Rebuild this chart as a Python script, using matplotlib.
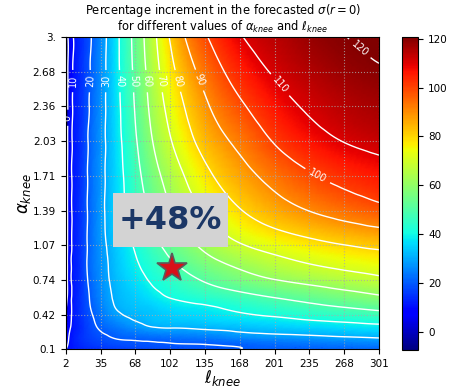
import numpy as np
import matplotlib
matplotlib.use('Agg')
import matplotlib.pyplot as plt
import matplotlib.tri as mtri
from matplotlib.patches import Rectangle

# grid nodes
l_knee = [2, 5, 10, 20, 35, 50, 68, 85, 102, 135, 168, 201, 235, 268, 301]
alpha_knee = [0.1, 0.14, 0.2, 0.3, 0.42, 0.58, 0.74, 0.9, 1.07, 1.39, 1.71, 2.03, 2.36, 2.68, 3.0]

# % increment, one row per alpha_knee value
increment = [
    [10, 11, 12, 13.5, 15, 16, 16.8, 17.5, 18.1, 19, 20, 20.6, 21, 21.3, 21.5],
    [9, 10.5, 12, 14.5, 16.5, 17.8, 18.6, 19.1, 19.4, 19.8, 20.6, 21.8, 22.7, 23.5, 24.2],
    [8, 10.1, 12.5, 15.5, 18.3, 20.1, 20.8, 21.4, 22.1, 23.3, 25.3, 26.4, 27.4, 28.5, 29.5],
    [5, 8.75, 11.6, 15.6, 20.7, 23.5, 26.9, 29.5, 30.2, 31.2, 32.4, 33.8, 35.1, 36.3, 37.5],
    [1, 7, 11.75, 16.75, 23.2, 28.5, 31.6, 33.3, 34.8, 36.5, 39, 41, 43.3, 45.1, 46.9],
    [-6, 5, 11.9, 17.5, 25.4, 31.1, 34.3, 37.3, 40.2, 43.5, 46.8, 50, 52.9, 55.7, 58.5],
    [-7.5, 5, 12.1, 17.9, 26.4, 32.2, 36.9, 41, 44.4, 50.7, 55.6, 59.5, 62.5, 65.2, 67.8],
    [-7.5, 5, 12.1, 18.2, 26.9, 33.1, 39, 44, 48.9, 56.6, 62.3, 66.8, 70.3, 72.8, 75],
    [-7.5, 4.3, 11.9, 18.1, 27.3, 34, 40.8, 47.3, 53, 62.2, 69.3, 73.8, 77.3, 80, 82],
    [-7.5, 4.3, 11.9, 18.1, 27.7, 35.5, 44.1, 52.2, 59.6, 71.1, 79.5, 85.5, 90.3, 94, 97.3],
    [-7.5, 4.3, 11.8, 17.9, 27.4, 35.9, 46.4, 56.1, 64.3, 77.5, 86.3, 93.2, 99, 103, 106],
    [-7.5, 3.75, 11.5, 17.6, 27.1, 36.4, 48.6, 60, 69.4, 83.5, 92.3, 100.5, 106.5, 110.2, 112.5],
    [-7.5, 3.3, 11.2, 17.1, 26.7, 36.9, 50.4, 62.9, 73.3, 88.5, 98.5, 106.3, 111.2, 114.3, 116.3],
    [-7.5, 3, 10.9, 16.6, 26.2, 37.3, 51.7, 65, 77.1, 93.5, 104.3, 110.8, 114.8, 117.6, 119.4],
    [-7.5, 2.7, 10.6, 16.1, 25.7, 37.5, 52.7, 66.9, 81, 99, 109.3, 114, 117.6, 119.9, 120.7],
]

xtick_labels = ['2', '35', '68', '102', '135', '168', '201', '235', '268', '301']
ytick_labels = ['0.1', '0.42', '0.74', '1.07', '1.39', '1.71', '2.03', '2.36', '2.68', '3.']
levels = list(range(0, 121, 10))
# where each contour label sits (l_knee, alpha_knee)
label_pos = [(4.5, 2.25), (11, 2.59), (25.3, 2.59), (39.6, 2.59), (53, 2.59), (66.3, 2.59),
             (79.7, 2.59), (93, 2.59), (108, 2.59), (127, 2.59), (241.8, 1.70),
             (203.6, 2.53), (284.7, 2.92)]
star_l, star_a = 103.5, 0.855
star_text = '+48%'

# triangulate the grid in normalised units, smooth it with the cubic refiner
l0, l1 = l_knee[0], l_knee[-1]
a0, a1 = alpha_knee[0], alpha_knee[-1]
L, A = np.meshgrid(l_knee, alpha_knee)
Z = np.array(increment, dtype=float)
nx, ny = len(l_knee), len(alpha_knee)
tris = []
for j in range(ny - 1):
    for i in range(nx - 1):
        k = j * nx + i
        tris.append([k, k + 1, k + nx + 1])
        tris.append([k, k + nx + 1, k + nx])
tri_n = mtri.Triangulation(((L - l0) / (l1 - l0)).ravel(), ((A - a0) / (a1 - a0)).ravel(), tris)
interp = mtri.CubicTriInterpolator(tri_n, Z.ravel(), kind='min_E')
ref_n, z_ref = mtri.UniformTriRefiner(tri_n).refine_field(Z.ravel(), triinterpolator=interp, subdiv=4)
tri_d = mtri.Triangulation(l0 + (l1 - l0) * ref_n.x, a0 + (a1 - a0) * ref_n.y, ref_n.triangles)

fig = plt.figure(figsize=(4.52, 3.89), dpi=100)
ax = fig.add_axes([0.1454, 0.102, 0.6931, 0.8029])
cax = fig.add_axes([0.8887, 0.1003, 0.0367, 0.8046])

mesh = ax.tripcolor(tri_d, z_ref, cmap='jet', shading='gouraud', vmin=-7.5, vmax=120.7)
cs = ax.tricontour(tri_d, z_ref, levels=levels, colors='white', linewidths=1.0)
ax.clabel(cs, fmt='%d', fontsize=7, inline=True, manual=label_pos)

ax.set_xticks(np.linspace(l0, l1, 10))
ax.set_xticklabels(xtick_labels, fontsize=7.5)
ax.set_yticks(np.linspace(a0, a1, 10))
ax.set_yticklabels(ytick_labels, fontsize=7.5)
ax.set_xlim(l0, l1)
ax.set_ylim(a0, a1)
ax.grid(True, linestyle=':', color='#aaaaaa', linewidth=0.8, alpha=0.8)

ax.set_xlabel(r'$\ell_{knee}$', fontsize=12)
ax.xaxis.set_label_coords(0.5, -0.06)
ax.set_ylabel(r'$\alpha_{knee}$', fontsize=12)
ax.yaxis.set_label_coords(-0.105, 0.5)
fig.text(0.4925, 0.972, r'Percentage increment in the forecasted $\sigma(r=0)$',
         fontsize=8.3, ha='center', va='center')
fig.text(0.4925, 0.932, r'for different values of $\alpha_{knee}$ and $\ell_{knee}$',
         fontsize=8.3, ha='center', va='center')

ax.plot(star_l, star_a, marker='*', markersize=22, color='#d8101a',
        markeredgecolor='#5a5a5a', markeredgewidth=1.2, zorder=5)
ax.add_patch(Rectangle((0.151, 0.3276), 0.367, 0.173, transform=ax.transAxes,
                       facecolor='#d3d3d3', edgecolor='none', zorder=6))
ax.text(0.3345, 0.411, star_text, transform=ax.transAxes, fontsize=23,
        fontweight='bold', color='#1b3766', va='center', ha='center', zorder=7)

cb = fig.colorbar(mesh, cax=cax)
cb.set_ticks([0, 20, 40, 60, 80, 100, 120])
cb.ax.tick_params(labelsize=7.5)
cb.set_label('% increment', rotation=270, fontsize=8.5, labelpad=12)

fig.savefig('out.png', dpi=100)
